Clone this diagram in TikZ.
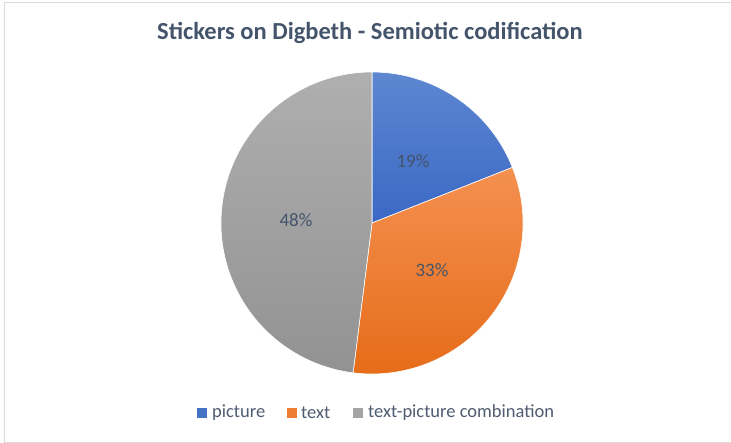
\documentclass[tikz,border=0pt]{standalone}
\usepackage{fontspec}
\setmainfont{Carlito}
\definecolor{titlegray}{HTML}{44546A}
\definecolor{labelgray}{HTML}{44546A}
\definecolor{legendgray}{HTML}{4E5B70}
\definecolor{framegray}{HTML}{D9D9D9}

\begin{document}
\begin{tikzpicture}
[
	x=1pt, y=-1pt,
% Slice style
	slice/.style={
		draw=white,
		line width=0.6pt},
% Percent label style
	pct/.style={
		text=labelgray,
		font=\fontsize{19}{22}\selectfont},
% Legend box style
	keybox/.style={
		minimum size=10pt,
		inner sep=0pt},
% Legend text style
	keytext/.style={
		text=legendgray,
		anchor=west,
		inner sep=0pt,
		font=\fontsize{18.5}{21}\selectfont},
]

% Frame
\useasboundingbox (0,0) rectangle (731,443);
\draw [framegray, line width=1pt] (732,2.5) -| (4.5,442) -- (732,442);

% Title
\node [text=titlegray, font=\bfseries\fontsize{24.5}{28}\selectfont] (title) at (370,33)
	{Stickers on Digbeth - Semiotic codification};

% Slices
\coordinate (c) at (372,223);
\shade [slice, top color={rgb,255:red,94;green,135;blue,209}, bottom color={rgb,255:red,58;green,104;blue,196}]
	(c) -- ++(90:-151) arc [start angle=90, end angle=21.6, radius=151, y radius=-151] -- cycle;
\shade [slice, top color={rgb,255:red,244;green,144;blue,80}, bottom color={rgb,255:red,230;green,108;blue,25}]
	(c) -- ++(21.6:151 and -151) arc [start angle=21.6, end angle=-97.2, x radius=151, y radius=-151] -- cycle;
\shade [slice, top color={rgb,255:red,175;green,175;blue,175}, bottom color={rgb,255:red,146;green,146;blue,146}]
	(c) -- ++(-97.2:151 and -151) arc [start angle=-97.2, end angle=-270, x radius=151, y radius=-151] -- cycle;

% Percent labels
\node [pct] (p1) at (413,161) {19\%};
\node [pct] (p2) at (432,270) {33\%};
\node [pct] (p3) at (296,220) {48\%};

% Legend
\node [keybox, fill={rgb,255:red,68;green,114;blue,196}] (k1) at (202,413) {};
\node [keytext] (t1) at (212,413) {picture};
\node [keybox, fill={rgb,255:red,237;green,125;blue,49}] (k2) at (292,413) {};
\node [keytext] (t2) at (301,413) {text};
\node [keybox, fill={rgb,255:red,165;green,165;blue,165}] (k3) at (358,413) {};
\node [keytext] (t3) at (368,413) {text-picture combination};

\end{tikzpicture}
\end{document}
